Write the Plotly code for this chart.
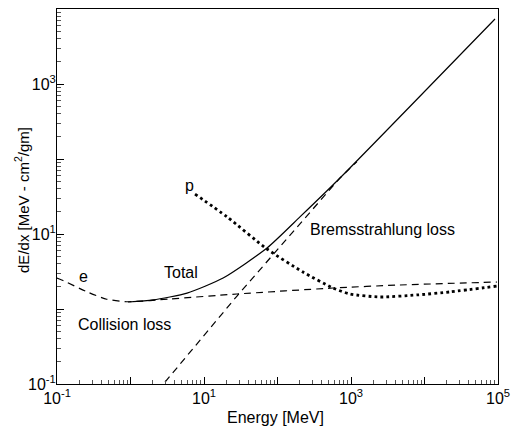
import math
import plotly.graph_objects as go

# Collision loss (electron), dashed
coll_E = [0.1, 0.116, 0.254, 0.474, 0.93, 3.44, 28.0, 569, 4640, 97000]
coll_V = [2.59, 2.44, 1.70, 1.35, 1.25, 1.36, 1.585, 1.905, 2.09, 2.29]

# Bremsstrahlung loss, dashed
brem_E = [2.95, 28.1, 708, 1200]
brem_V = [0.106, 1.49, 55.8, 92.0]

# Total, solid
tot_E = [0.925, 2.02, 5.88, 18.2, 72, 202, 708, 91000]
tot_V = [1.24, 1.32, 1.63, 2.59, 6.5, 16.9, 55.8, 7360]

# Proton, dotted
p_E = [7.55, 20.6, 72, 222, 569, 969, 2480, 7900, 22200, 100000]
p_V = [34.1, 16.9, 6.31, 3.11, 1.905, 1.585, 1.445, 1.54, 1.69, 2.03]

x_major = [0.1, 1, 10, 100, 1000, 10000, 100000]
x_labels = ["10<sup>-1</sup>", "", "10<sup>1</sup>", "", "10<sup>3</sup>", "", "10<sup>5</sup>"]
y_major = [0.1, 1, 10, 100, 1000, 10000]
y_labels = ["10<sup>-1</sup>", "", "10<sup>1</sup>", "", "10<sup>3</sup>", ""]

minor_vals = [m * 10.0 ** k for k in range(-1, 5) for m in range(2, 10)]

FONT = "Liberation Sans, DejaVu Sans, sans-serif"
LW = 1.2

fig = go.Figure()
fig.add_trace(go.Scatter(x=coll_E, y=coll_V, mode="lines", line=dict(color="black", width=LW, dash="7px,5px", shape="spline", smoothing=0.6)))
fig.add_trace(go.Scatter(x=brem_E, y=brem_V, mode="lines", line=dict(color="black", width=LW, dash="7px,5px")))
fig.add_trace(go.Scatter(x=tot_E, y=tot_V, mode="lines", line=dict(color="black", width=LW, shape="spline", smoothing=0.6)))
fig.add_trace(go.Scatter(x=p_E, y=p_V, mode="lines", line=dict(color="black", width=2.8, dash="2.8px,3.2px", shape="spline", smoothing=0.6)))

ann = [
    ("p", 6.3, 44.0),
    ("e", 0.226, 2.7),
    ("Total", 4.8, 3.1),
    ("Collision loss", 0.84, 0.62),
    ("Bremsstrahlung loss", 2650, 11.5),
]
for t, xx, yy in ann:
    fig.add_annotation(x=math.log10(xx), y=math.log10(yy), text=t, showarrow=False,
                       font=dict(family=FONT, size=16, color="black"))

# axis titles as annotations for precise placement
fig.add_annotation(xref="paper", yref="paper", x=0.495, y=-0.09, yanchor="middle", xanchor="center",
                   text="Energy [MeV]", showarrow=False, font=dict(family=FONT, size=16, color="black"))
fig.add_annotation(xref="paper", yref="paper", x=-0.08, y=0.49, yanchor="middle", xanchor="center",
                   text="dE/dx [MeV - cm<sup>2</sup>/gm]", textangle=-90, showarrow=False,
                   font=dict(family=FONT, size=15, color="black"))

axis_common = dict(type="log", showgrid=False, zeroline=False, showline=True, linecolor="black", linewidth=1,
                   mirror=True, ticks="inside", ticklen=7, tickcolor="black",
                   tickfont=dict(family=FONT, size=16, color="black"), ticklabeloverflow="allow",
                   minor=dict(tickmode="array", tickvals=minor_vals, ticks="inside", ticklen=4, tickcolor="#555"))

fig.update_xaxes(range=[-1, 5], tickmode="array", tickvals=x_major, ticktext=x_labels, **axis_common)
fig.update_yaxes(range=[-1, 4], tickmode="array", tickvals=y_major, ticktext=y_labels,
                 ticklabelstandoff=-3, **axis_common)

fig.update_layout(width=511, height=432, autosize=False, margin=dict(l=57, r=13, t=9, b=48, autoexpand=False),
                  paper_bgcolor="white", plot_bgcolor="white", showlegend=False)
fig.write_html("out.html", config={"displayModeBar": False, "responsive": False},
               post_script="document.body.style.margin='0';document.body.style.padding='0';document.body.style.overflow='hidden';")
